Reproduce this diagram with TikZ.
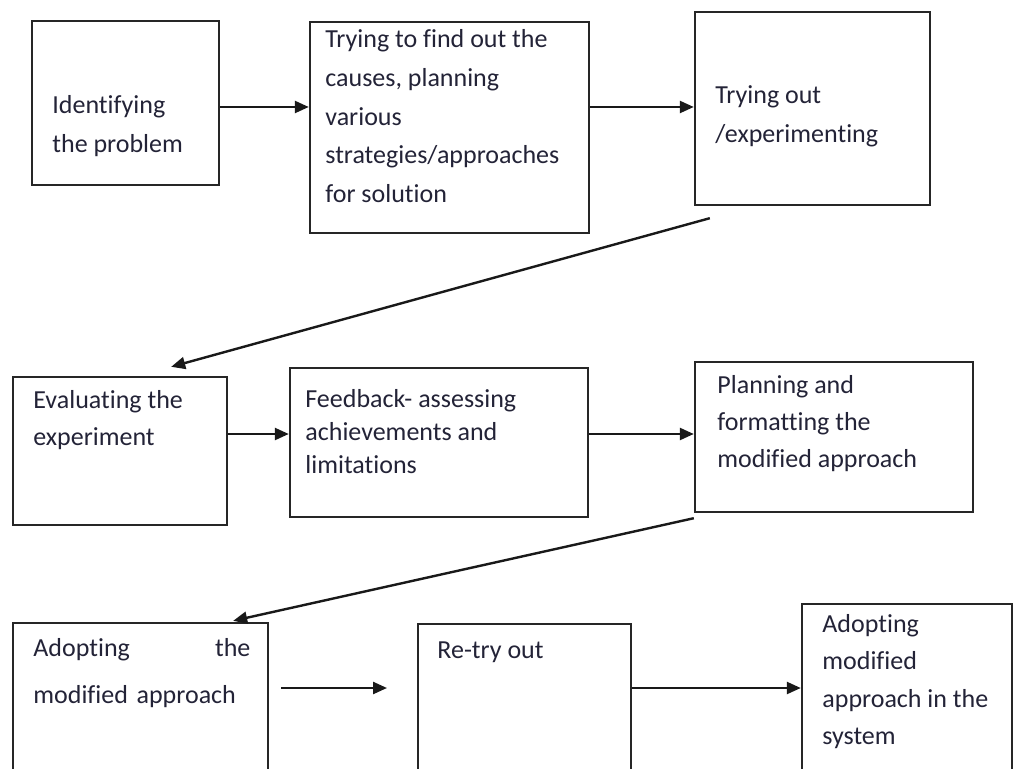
\documentclass[tikz,border=0pt]{standalone}
\usepackage{fontspec}
\setmainfont{Carlito}[Ligatures=NoCommon]
\usepackage{xcolor}
\usetikzlibrary{arrows.meta,positioning,fit}
\definecolor{txtcol}{RGB}{35,35,55}

\begin{document}
\begin{tikzpicture}[x=0.5pt,y=-0.5pt,
  box/.style={draw=black!85,line width=1.2pt,inner sep=0pt},
  txt/.style={anchor=north west,align=left,inner sep=0pt,text=txtcol,
    execute at begin node={\rule{0pt}{10pt}}},
  arr/.style={draw=black!90,line width=1.2pt,-{Triangle[length=7pt,width=6pt]}}]
\useasboundingbox (0,0) rectangle (1015,769);
\clip (0,0) rectangle (1015,769);

% Row 1
\node[box,fit={(32,21) (219,185)}] (b1) {};
\node[box,fit={(310,22) (589,233)}] (b2) {};
\node[box,fit={(695,12) (930,205)}] (b3) {};
\node[txt,font=\fontsize{13}{19.5}\selectfont] (t1) at (52,95) {Identifying\\the problem};
\node[txt,font=\fontsize{13}{19.4}\selectfont] (t2) at (325,29) {Trying to find out the\\causes, planning\\various\\strategies/approaches\\for solution};
\node[txt,font=\fontsize{13}{19.5}\selectfont] (t3) at (715,85) {Trying out\\/experimenting};

% Row 2
\node[box,fit={(13,377) (227,525)}] (b4) {};
\node[box,fit={(290,368) (588,517)}] (b5) {};
\node[box,fit={(695,362) (973,512)}] (b6) {};
\node[txt,font=\fontsize{13}{18.5}\selectfont] (t4) at (33,390) {Evaluating the\\experiment};
\node[txt,font=\fontsize{13}{16.5}\selectfont] (t5) at (305,389) {Feedback- assessing\\achievements and\\limitations};
\node[txt,font=\fontsize{13}{18.5}\selectfont] (t6) at (717,375) {Planning and\\formatting the\\modified approach};

% Row 3
\node[box,fit={(13,623) (268,800)}] (b7) {};
\node[box,fit={(418,624) (631,800)}] (b8) {};
\node[box,fit={(802,604) (1012,800)}] (b9) {};
\node[txt,text width=108.5pt,font=\fontsize{13}{23.5}\selectfont] (t7) at (33,636) {Adopting\hfill the\\modified approach};
\node[txt,font=\fontsize{13}{19}\selectfont] (t8) at (437,638) {Re-try out};
\node[txt,font=\fontsize{13}{18.7}\selectfont] (t9) at (822,614) {Adopting\\modified\\approach in the\\system};

% arrow levels
\coordinate (r1) at (0,107);
\coordinate (r2) at (0,434);
\coordinate (r3) at (0,688);
\coordinate (gap) at (387,688);

\draw[arr] (r1 -| b1.east) -- (r1 -| b2.west);
\draw[arr] (r1 -| b2.east) -- (r1 -| b3.west);
\draw[arr] ([shift={(16,12)}]b3.south west) -- ([shift={(-57,-9)}]b4.north east);
\draw[arr] (r2 -| b4.east) -- (r2 -| b5.west);
\draw[arr] (r2 -| b5.east) -- (r2 -| b6.west);
\draw[arr] ([shift={(0,5)}]b6.south west) -- ([shift={(-36,-1)}]b7.north east);
\draw[arr] ([xshift=6pt]r3 -| b7.east) -- (gap);
\draw[arr] (r3 -| b8.east) -- (r3 -| b9.west);
\end{tikzpicture}
\end{document}
